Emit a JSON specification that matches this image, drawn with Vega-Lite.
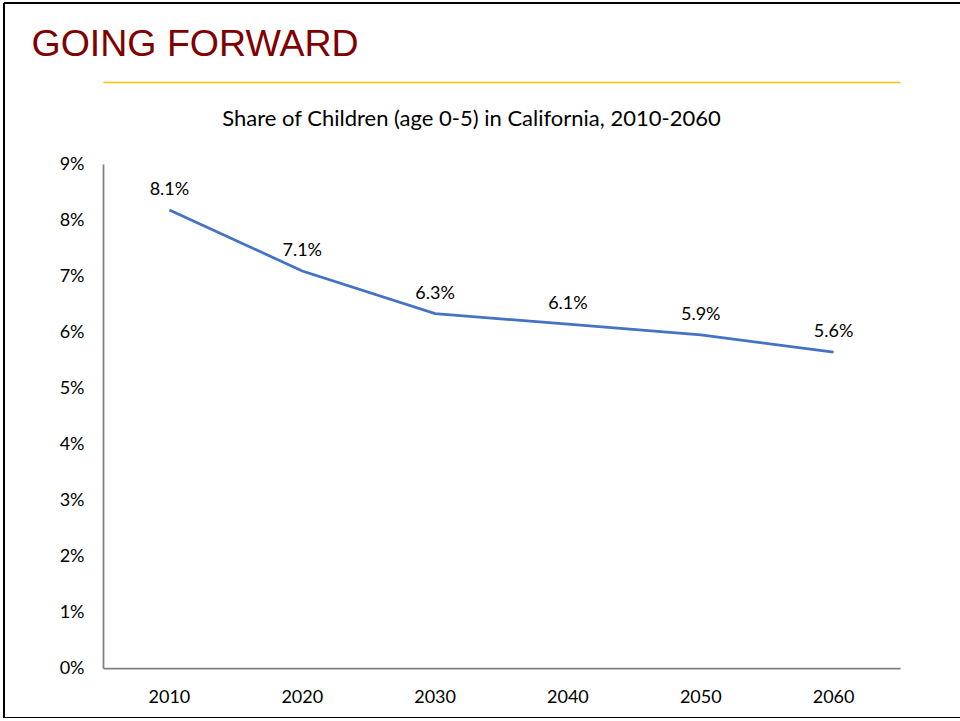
{
  "$schema": "https://vega.github.io/schema/vega-lite/v6.json",
  "width": 956,
  "height": 715,
  "autosize": {"type": "none"},
  "padding": {"left": 4, "top": 3, "right": 0, "bottom": 0},
  "background": "white",
  "data": {
    "values": [
      {"year": "2010", "value": 0.0818, "label": "8.1%"},
      {"year": "2020", "value": 0.0709, "label": "7.1%"},
      {"year": "2030", "value": 0.0633, "label": "6.3%"},
      {"year": "2040", "value": 0.0614, "label": "6.1%"},
      {"year": "2050", "value": 0.0595, "label": "5.9%"},
      {"year": "2060", "value": 0.0564, "label": "5.6%"}
    ]
  },
  "config": {
    "view": {"stroke": "black", "strokeWidth": 2, "strokeDash": [956, 715, 1671, 0]},
    "axis": {"labelFont": "Lato", "labelFontSize": 18, "labelColor": "black", "grid": false}
  },
  "resolve": {"axis": {"x": "independent"}},
  "layer": [
    {
      "mark": {"type": "line", "color": "#4472C4", "strokeWidth": 2.75},
      "encoding": {
        "x": {
          "field": "year", "type": "ordinal",
          "scale": {"type": "band", "range": [99, 896], "paddingInner": 0, "paddingOuter": 0},
          "axis": {"orient": "bottom", "offset": -50, "domainColor": "#7f7f7f", "domainWidth": 1.75, "ticks": false, "tickSize": 0, "labelPadding": 34, "labelBaseline": "alphabetic", "labelAngle": 0, "title": null}
        },
        "y": {
          "field": "value", "type": "quantitative",
          "scale": {"domain": [0, 0.09], "range": [665, 161], "nice": false, "zero": true},
          "axis": {"orient": "left", "offset": -99, "format": ".0%", "values": [0, 0.01, 0.02, 0.03, 0.04, 0.05, 0.06, 0.07, 0.08, 0.09], "ticks": false, "tickSize": 0, "labelPadding": 19, "domainColor": "#7f7f7f", "domainWidth": 1.75,
            "title": "GOING FORWARD", "titleAngle": 0, "titleX": -72, "titleY": 52, "titleAlign": "left", "titleBaseline": "alphabetic", "titleFont": "Liberation Sans", "titleFontSize": 37.5, "titleFontWeight": "normal", "titleColor": "#800000"}
        }
      }
    },
    {
      "mark": {"type": "text", "dy": -20, "baseline": "middle", "font": "Lato", "fontSize": 18, "color": "black"},
      "encoding": {
        "x": {
          "field": "year", "type": "ordinal",
          "scale": {"type": "band", "range": [99, 896], "paddingInner": 0, "paddingOuter": 0},
          "axis": {"orient": "top", "offset": -79, "domain": true, "domainColor": "#FFC000", "domainWidth": 1.5, "labels": false, "ticks": false, "tickSize": 0,
            "title": "Share of Children (age 0-5) in California, 2010-2060", "titleFont": "Lato", "titleFontSize": 22, "titleFontWeight": "normal", "titleColor": "black", "titleX": 467, "titleY": 43, "titleAlign": "center", "titleBaseline": "alphabetic"}
        },
        "y": {
          "field": "value", "type": "quantitative",
          "scale": {"domain": [0, 0.09], "range": [665, 161], "nice": false, "zero": true}
        },
        "text": {"field": "label"}
      }
    }
  ]
}
